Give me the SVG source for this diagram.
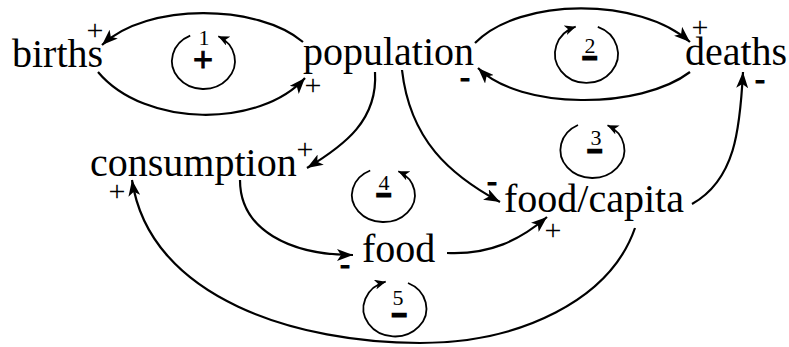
<svg xmlns="http://www.w3.org/2000/svg" width="789" height="347" viewBox="0 0 789 347">
<defs>
<style>
.lbl{font-family:"Liberation Serif","Times New Roman",serif;font-size:40px;fill:#000}
.sg{font-family:"Liberation Serif","Times New Roman",serif;font-size:30px;fill:#000;text-anchor:middle}
.mn{font-family:"Liberation Serif","Times New Roman",serif;font-size:30px;font-weight:bold;fill:#000;stroke:#000;stroke-width:1;text-anchor:middle}
.ll{font-family:"Liberation Serif","Times New Roman",serif;fill:#000;text-anchor:middle}
.num{font-size:22px;font-weight:normal;stroke:none}
.lsg{font-size:26px;font-weight:bold;stroke:#000;stroke-width:3}
.lpl{font-size:36px;font-weight:bold;stroke:#000;stroke-width:0.8}
.c{fill:none;stroke:#000;stroke-width:2.2;marker-end:url(#ah)}
.lp{fill:none;stroke:#000;stroke-width:1.8;marker-end:url(#sh)}
</style>
<marker id="ah" markerWidth="17" markerHeight="12" refX="16" refY="6" orient="auto" markerUnits="userSpaceOnUse"><path d="M0,0 L16,6 L0,12 L4,6 z" fill="#000"/></marker>
<marker id="sh" markerWidth="12" markerHeight="10" refX="11" refY="5" orient="auto" markerUnits="userSpaceOnUse"><path d="M0,0 L11,5 L0,10 L3,5 z" fill="#000"/></marker>
</defs>
<rect width="789" height="347" fill="#fff"/>
<g id="connectors">
<path class="c" d="M303,42 C258,4 148,2 102,45"/>
<path class="c" d="M98,72 C145,128 260,128 305,78"/>
<path class="c" d="M475,43 C520,-3 640,-3 690,42"/>
<path class="c" d="M690,72 C640,110 520,110 478,68"/>
<path class="c" d="M375,72 C378,120 345,145 307,168"/>
<path class="c" d="M402,70 C410,140 450,175 500,202"/>
<path class="c" d="M240,180 C240,230 290,255 353,255"/>
<path class="c" d="M447,253 C490,255 520,240 547,217"/>
<path class="c" d="M635,228 C610,300 520,343 420,343 C300,343 150,300 132,180"/>
<path class="c" d="M692,204 C735,180 740,130 743,72"/>
</g>
<g id="births"><text class="lbl" x="12" y="67">births</text></g>
<g id="population"><text class="lbl" x="303" y="65">population</text></g>
<g id="deaths"><text class="lbl" x="685" y="65">deaths</text></g>
<g id="consumption"><text class="lbl" x="90" y="176">consumption</text></g>
<g id="food"><text class="lbl" x="362" y="262">food</text></g>
<g id="food-capita"><text class="lbl" x="504" y="212">food/capita</text></g>
<g id="signs">
<text class="sg" x="95" y="40">+</text>
<text class="sg" x="313" y="95">+</text>
<text class="sg" x="700" y="37">+</text>
<text class="mn" x="465" y="87">-</text>
<text class="mn" x="760" y="89">-</text>
<text class="sg" x="305" y="159">+</text>
<text class="sg" x="117" y="201">+</text>
<text class="mn" x="492" y="191">-</text>
<text class="mn" x="345" y="274">-</text>
<text class="sg" x="553" y="240">+</text>
</g>
<g id="loop1">
<path class="lp" d="M190.2,35.6 A31.5,28 0 1 0 218.3,36.3"/>
<text class="ll"><tspan class="num" x="204" y="45">1</tspan><tspan class="lpl" x="203" y="72">+</tspan></text>
</g>
<g id="loop2">
<path class="lp" d="M597.8,26.9 A31.5,29 0 1 1 575.7,26.7"/>
<text class="ll"><tspan class="num" x="590" y="53">2</tspan><tspan class="lsg" x="590" y="67">−</tspan></text>
</g>
<g id="loop3">
<path class="lp" d="M578,125 A32,28 0 1 0 607.5,125.3"/>
<text class="ll"><tspan class="num" x="596" y="145">3</tspan><tspan class="lsg" x="595" y="160">−</tspan></text>
</g>
<g id="loop4">
<path class="lp" d="M370.2,170.5 A31.5,27 0 1 0 398.3,171.2"/>
<text class="ll"><tspan class="num" x="384" y="190">4</tspan><tspan class="lsg" x="384" y="203.5">−</tspan></text>
</g>
<g id="loop5">
<path class="lp" d="M408,283 A31.5,28 0 1 1 385.7,281.7"/>
<text class="ll"><tspan class="num" x="398" y="305">5</tspan><tspan class="lsg" x="399.5" y="324">−</tspan></text>
</g>
</svg>
